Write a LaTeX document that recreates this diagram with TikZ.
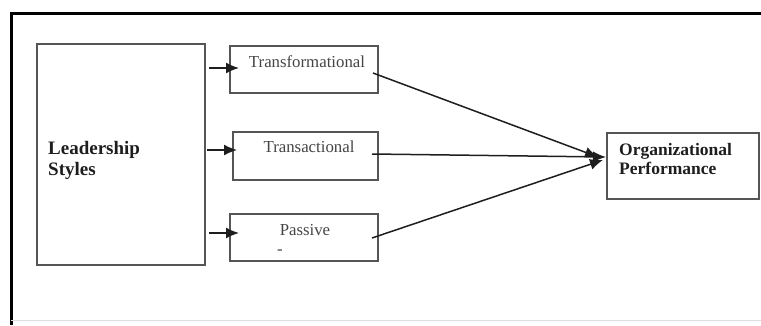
\documentclass[tikz,border=0pt]{standalone}
\usepackage{fontspec}
\setmainfont{Liberation Serif}
\usetikzlibrary{arrows.meta}
\definecolor{boxline}{HTML}{555555}
\definecolor{txtgray}{HTML}{444444}
\definecolor{txtdark}{HTML}{1e1e1e}
\begin{document}
\begin{tikzpicture}[x=1pt,y=-1pt,
  box/.style={draw=boxline,line width=1.5pt},
  lbl/.style={text=txtgray,font=\fontsize{16.8}{19}\selectfont,inner sep=0pt},
  blbl/.style={text=txtdark,font=\bfseries\fontsize{19}{22}\selectfont,inner sep=0pt,align=left},
  conn/.style={draw=txtdark,line width=1.5pt},
  arr/.style={conn,-{Latex[length=13pt,width=11pt]}}]
\useasboundingbox (0,0) rectangle (761,325);
% outer frame
\draw[line width=3pt,black] (11,325) -- (11,13) -- (761,13);
\draw[line width=0.6pt,black!12] (11,320) -- (761,320);
% boxes
\draw[box] (37,44) rectangle (205,265);
\draw[box] (230,46) rectangle (378,93);
\draw[box] (233,132) rectangle (378,180);
\draw[box] (230,214) rectangle (378,261);
\draw[box] (607,133) rectangle (759,199);
% texts
\node[blbl,anchor=west] (lst) at (48,160) {Leadership\\[-1pt]Styles};
\node[lbl] (tft) at (307,62) {Transformational};
\node[lbl] (tat) at (309,147) {Transactional};
\node[lbl] (pat) at (305,230) {Passive};
\node[lbl] (dash) at (280,252) {-};
\node[blbl,anchor=west,font=\bfseries\fontsize{17.5}{20}\selectfont] (opt) at (619,159) {Organizational\\[-1pt]Performance};
% connectors
\coordinate (s1) at (209,68);  \coordinate (e1) at (239,68);
\coordinate (s2) at (207,150); \coordinate (e2) at (237,150);
\coordinate (s3) at (209,233); \coordinate (e3) at (239,233);
\draw[arr] (s1) -- (e1);
\draw[arr] (s2) -- (e2);
\draw[arr] (s3) -- (e3);
\coordinate (f1) at (373,73);
\coordinate (f2) at (372,154);
\coordinate (f3) at (372,238);
\coordinate (t1) at (598,157);
\coordinate (t2) at (606,157);
\coordinate (t3) at (603,160);
\draw[arr] (f1) -- (t1);
\draw[arr] (f2) -- (t2);
\draw[arr] (f3) -- (t3);
\end{tikzpicture}
\end{document}
